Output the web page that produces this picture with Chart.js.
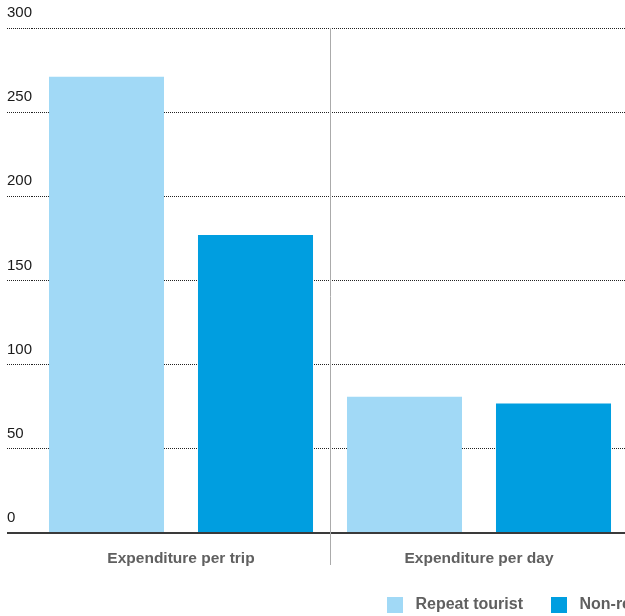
<!DOCTYPE html>
<html>
<head>
<meta charset="utf-8">
<script src="https://cdn.jsdelivr.net/npm/chart.js@4/dist/chart.umd.min.js"></script>
<style>
  html, body { margin: 0; padding: 0; background: #fff; overflow: hidden; }
  #wrap { position: absolute; left: 0; top: 0; width: 640px; height: 616px; }
</style>
</head>
<body>
<div id="wrap"><canvas id="chart"></canvas></div>
<script>
// Tourist spending, repeat vs non-repeat visitors
var categories = ['Expenditure per trip', 'Expenditure per day'];
var repeatTourist = [271, 81];
var nonRepeatTourist = [177, 77];
var seriesNames = ['Repeat tourist', 'Non-repeat tourist'];
var yMin = 0, yMax = 300, yStep = 50;

var lightBlue = '#a1d9f6';
var darkBlue = '#009ee0';
var labelGrey = '#606060';
var fontFamily = '"Liberation Sans", Arial, sans-serif';

function isZero(ctx) {
    return ctx.tick && ctx.tick.value === 0;
}

// put the legend row where it sits under the right-hand group
var legendPlacer = {
    id: 'legendPlacer',
    afterLayout: function (chart) {
        var lg = chart.legend;
        var pad = lg.options.labels.padding;
        var h = lg.height;
        lg.left = 387 - pad;
        lg.right = lg.left + 1000;
        lg.top = 597 - pad;
        lg.bottom = lg.top + h;
    }
};

// thin grey rule between the two category groups, running down past the axis
var groupDivider = {
    id: 'groupDivider',
    beforeDatasetsDraw: function (chart) {
        var x = chart.scales.x;
        var area = chart.chartArea;
        var px = Math.round((x.getPixelForValue(0) + x.getPixelForValue(1)) / 2) + 0.5;
        var c = chart.ctx;
        c.save();
        c.strokeStyle = '#ababab';
        c.lineWidth = 1;
        c.beginPath();
        c.moveTo(px, area.top);
        c.lineTo(px, area.bottom + 32);
        c.stroke();
        c.restore();
    }
};

var ctx = document.getElementById('chart').getContext('2d');

var chart = new Chart(ctx, {
    type: 'bar',
    data: {
        labels: categories,
        datasets: [{
            label: seriesNames[0],
            data: repeatTourist,
            backgroundColor: lightBlue
        }, {
            label: seriesNames[1],
            data: nonRepeatTourist,
            backgroundColor: darkBlue
        }]
    },
    options: {
        responsive: true,
        maintainAspectRatio: false,
        animation: false,
        categoryPercentage: 1,
        barPercentage: 0.772,
        layout: {
            padding: { left: 7, right: 12, top: 28, bottom: -7 }
        },
        scales: {
            x: {
                afterFit: function (scale) { scale.height = 36; },
                grid: { display: false, drawTicks: false },
                border: { display: false },
                ticks: {
                    padding: 16,
                    color: labelGrey,
                    font: { family: fontFamily, size: 15.5, weight: 'bold' }
                }
            },
            y: {
                min: yMin,
                max: yMax,
                z: 1,
                afterFit: function (scale) { scale.width = 25; },
                grid: {
                    color: function (c) { return isZero(c) ? '#3a3a3a' : '#222'; },
                    tickColor: function (c) { return isZero(c) ? '#3a3a3a' : '#222'; },
                    lineWidth: function (c) { return isZero(c) ? 2 : 1; },
                    tickWidth: function (c) { return isZero(c) ? 2 : 1; },
                    tickLength: 25,
                    tickBorderDash: function (c) { return isZero(c) ? [] : [1, 1]; }
                },
                border: {
                    display: false,
                    dash: function (c) { return isZero(c) ? [] : [1, 1]; }
                },
                ticks: {
                    stepSize: yStep,
                    crossAlign: 'far',
                    padding: 0,
                    labelOffset: -15,
                    color: '#1a1a1a',
                    font: { family: fontFamily, size: 15 }
                }
            }
        },
        plugins: {
            tooltip: { enabled: false },
            legend: {
                position: 'bottom',
                align: 'start',
                labels: {
                    boxWidth: 16,
                    boxHeight: 16,
                    padding: 28,
                    color: labelGrey,
                    font: { family: fontFamily, size: 16, weight: 'bold' },
                    generateLabels: function (chart) {
                        var items = Chart.defaults.plugins.legend.labels.generateLabels(chart);
                        items.forEach(function (it) { it.text = ' ' + it.text; it.lineWidth = 0; });
                        return items;
                    }
                }
            }
        }
    },
    plugins: [legendPlacer, groupDivider]
});
</script>
</body>
</html>
